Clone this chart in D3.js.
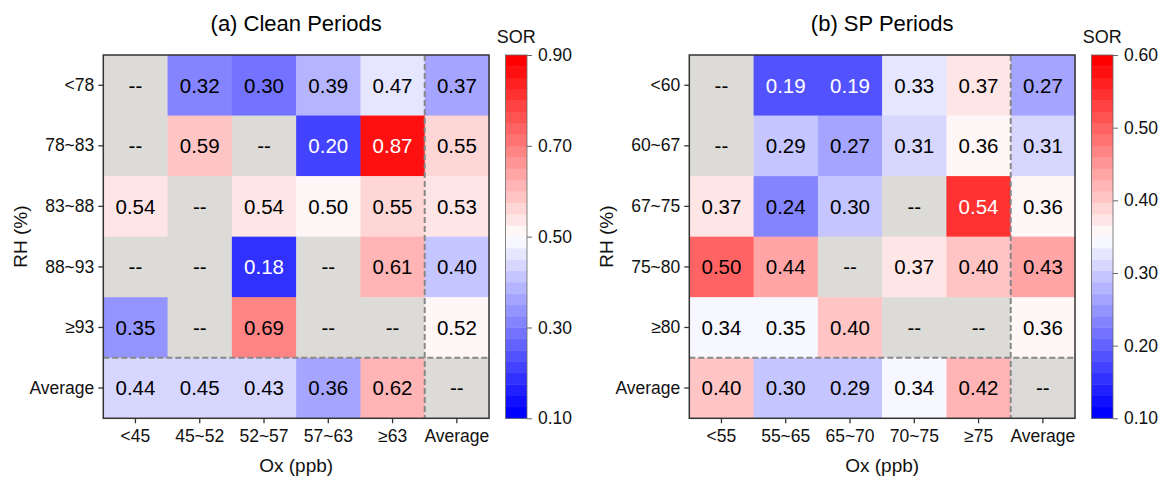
<!DOCTYPE html>
<html>
<head>
<meta charset="utf-8">
<style>
  body { margin: 0; background: #fff; }
  svg text { font-family: "Liberation Sans", Arial, sans-serif; }
</style>
</head>
<body>
<div id="chart"></div>
<script src="https://d3js.org/d3.v7.min.js"></script>
<script>
// ---- data ----
const cleanTitle = "(a) Clean Periods";
const cleanRows = ["<78", "78~83", "83~88", "88~93", "≥93", "Average"];
const cleanCols = ["<45", "45~52", "52~57", "57~63", "≥63", "Average"];
const cleanValues = [
  [null, 0.32, 0.30, 0.39, 0.47, 0.37],
  [null, 0.59, null, 0.20, 0.87, 0.55],
  [0.54, null, 0.54, 0.50, 0.55, 0.53],
  [null, null, 0.18, null, 0.61, 0.40],
  [0.35, null, 0.69, null, null, 0.52],
  [0.44, 0.45, 0.43, 0.36, 0.62, null]
];
const cleanRange = [0.1, 0.9];
const cleanTicks = [0.1, 0.3, 0.5, 0.7, 0.9];

const spTitle = "(b) SP Periods";
const spRows = ["<60", "60~67", "67~75", "75~80", "≥80", "Average"];
const spCols = ["<55", "55~65", "65~70", "70~75", "≥75", "Average"];
const spValues = [
  [null, 0.19, 0.19, 0.33, 0.37, 0.27],
  [null, 0.29, 0.27, 0.31, 0.36, 0.31],
  [0.37, 0.24, 0.30, null, 0.54, 0.36],
  [0.50, 0.44, null, 0.37, 0.40, 0.43],
  [0.34, 0.35, 0.40, null, null, 0.36],
  [0.40, 0.30, 0.29, 0.34, 0.42, null]
];
const spRange = [0.1, 0.6];
const spTicks = [0.1, 0.2, 0.3, 0.4, 0.5, 0.6];

// ---- layout ----
const W = 1168, H = 479;
const nLevels = 32;
const missingColor = "#dcdbd7";

const svg = d3.select("#chart").append("svg")
  .attr("width", W).attr("height", H);
svg.append("rect").attr("width", W).attr("height", H).attr("fill", "#fff");

// matplotlib "bwr"
const bwr = t => {
  t = Math.max(0, Math.min(1, t));
  if (t <= 0.5) { const c = Math.round(255 * t * 2); return d3.rgb(c, c, 255); }
  const c = Math.round(255 * (1 - t) * 2); return d3.rgb(255, c, c);
};

function panel(opts) {
  const { left, top, w, h, title, rows, cols, values, range, ticks } = opts;
  const g = svg.append("g").attr("transform", `translate(${left},${top})`);

  const x = d3.scaleBand().domain(cols).range([0, w]);
  const y = d3.scaleBand().domain(rows).range([0, h]);
  const norm = d3.scaleLinear().domain(range).range([0, 1]).clamp(true);
  const level = v => Math.min(nLevels - 1, Math.floor(norm(v) * nLevels));
  const color = v => bwr(level(v) / (nLevels - 1));

  const cells = [];
  values.forEach((r, i) => r.forEach((v, j) => cells.push({ row: rows[i], col: cols[j], v })));

  g.selectAll("rect.cell").data(cells).join("rect")
    .attr("class", "cell")
    .attr("x", d => x(d.col)).attr("y", d => y(d.row))
    .attr("width", x.bandwidth() + 0.5).attr("height", y.bandwidth() + 0.5)
    .attr("fill", d => d.v == null ? missingColor : color(d.v));

  g.selectAll("text.val").data(cells).join("text")
    .attr("class", "val")
    .attr("x", d => x(d.col) + x.bandwidth() / 2)
    .attr("y", d => y(d.row) + y.bandwidth() / 2)
    .attr("dy", "0.36em")
    .attr("text-anchor", "middle")
    .attr("font-size", 20.5)
    .attr("fill", d => {
      if (d.v == null) return "#000";
      const t = level(d.v) / (nLevels - 1);
      return Math.abs(t - 0.5) > 0.33 ? "#fff" : "#000";
    })
    .text(d => d.v == null ? "--" : d.v.toFixed(2));

  // dashed separators for the "Average" row/column
  const xs = x(cols[cols.length - 1]), ys = y(rows[rows.length - 1]);
  g.append("line").attr("x1", xs).attr("x2", xs).attr("y1", 0).attr("y2", h)
    .attr("stroke", "#888").attr("stroke-width", 2).attr("stroke-dasharray", "6,3");
  g.append("line").attr("x1", 0).attr("x2", w).attr("y1", ys).attr("y2", ys)
    .attr("stroke", "#888").attr("stroke-width", 2).attr("stroke-dasharray", "6,3");

  g.append("rect").attr("width", w).attr("height", h)
    .attr("fill", "none").attr("stroke", "#333").attr("stroke-width", 1.5);

  const ya = g.append("g").call(d3.axisLeft(y).tickSize(5).tickPadding(4));
  const xa = g.append("g").attr("transform", `translate(0,${h})`)
    .call(d3.axisBottom(x).tickSize(5).tickPadding(6));
  [ya, xa].forEach(a => {
    a.select(".domain").remove();
    a.selectAll(".tick line").attr("stroke", "#333").attr("stroke-width", 1.3);
    a.selectAll(".tick text").attr("font-size", 17.5).attr("fill", "#111");
  });

  g.append("text").attr("x", w / 2).attr("y", -24).attr("text-anchor", "middle")
    .attr("font-size", 22).attr("fill", "#000").text(title);
  g.append("text").attr("x", w / 2).attr("y", h + 54).attr("text-anchor", "middle")
    .attr("font-size", 19).attr("fill", "#111").text("Ox (ppb)");
  g.append("text").attr("transform", `translate(${-76},${h / 2}) rotate(-90)`)
    .attr("text-anchor", "middle").attr("font-size", 19).attr("fill", "#111").text("RH (%)");

  // colorbar
  const cbX = w + 16.5, cbW = 21.5;
  const cy = d3.scaleLinear().domain(range).range([h, 0]);
  const step = (range[1] - range[0]) / nLevels;
  const levels = d3.range(nLevels);
  const cb = g.append("g").attr("transform", `translate(${cbX},0)`);
  cb.selectAll("rect").data(levels).join("rect")
    .attr("x", 0).attr("width", cbW)
    .attr("y", i => cy(range[0] + (i + 1) * step))
    .attr("height", i => cy(range[0] + i * step) - cy(range[0] + (i + 1) * step) + 0.4)
    .attr("fill", i => bwr(i / (nLevels - 1)));
  cb.append("rect").attr("width", cbW).attr("height", h)
    .attr("fill", "none").attr("stroke", "#666").attr("stroke-width", 0.8);
  const ca = cb.append("g").attr("transform", `translate(${cbW},0)`)
    .call(d3.axisRight(cy).tickValues(ticks).tickFormat(d3.format(".2f")).tickSize(5).tickPadding(6));
  ca.select(".domain").remove();
  ca.selectAll(".tick line").attr("stroke", "#666");
  ca.selectAll(".tick text").attr("font-size", 17.5).attr("fill", "#111");
  cb.append("text").attr("x", cbW / 2).attr("y", -12).attr("text-anchor", "middle")
    .attr("font-size", 18).attr("fill", "#111").text("SOR");
}

panel({ left: 103.3, top: 55, w: 385.7, h: 363.3, title: cleanTitle,
  rows: cleanRows, cols: cleanCols, values: cleanValues, range: cleanRange, ticks: cleanTicks });
panel({ left: 689.3, top: 55, w: 385.7, h: 363.3, title: spTitle,
  rows: spRows, cols: spCols, values: spValues, range: spRange, ticks: spTicks });
</script>
</body>
</html>
